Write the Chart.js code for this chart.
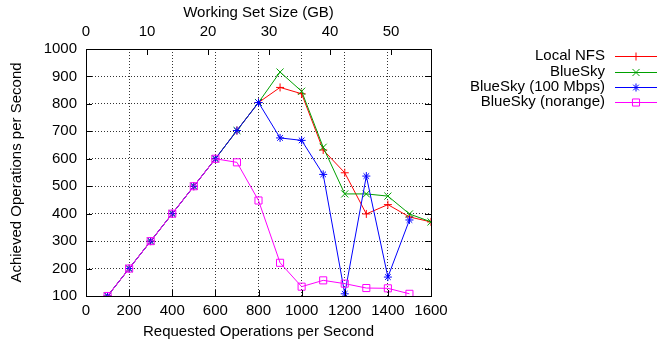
<!DOCTYPE html>
<html>
<head>
<meta charset="utf-8">
<script src="https://cdn.jsdelivr.net/npm/chart.js@4/dist/chart.umd.min.js"></script>
<style>
  html, body { margin: 0; padding: 0; background: #fff; }
  #wrap { width: 657px; height: 341px; position: relative; }
</style>
</head>
<body>
<div id="wrap"><canvas id="chart"></canvas></div>
<script>
// requested ops/s (x), achieved ops/s per series
const requested = [100, 200, 300, 400, 500, 600, 700, 800, 900, 1000, 1100, 1200, 1300, 1400, 1500, 1600];
const localNfs = [100, 200, 300, 400, 500, 600, 703, 805, 860, 837, 632, 549, 399, 433, 388, 370];
const blueSky = [100, 200, 300, 400, 500, 600, 703, 805, 916, 846, 642, 472, 472, 464, 399, 370];
const blueSky100 = [100, 200, 300, 400, 500, 600, 703, 805, 676, 667, 543, 108, 537, 169, 377, null];
const blueSkyNorange = [100, 200, 300, 400, 500, 600, 587, 448, 221, 134, 157, 145, 129, 128, 108, null];
const seriesNames = ['Local NFS', 'BlueSky', 'BlueSky (100 Mbps)', 'BlueSky (norange)'];
const xTicks = [0, 200, 400, 600, 800, 1000, 1200, 1400, 1600];
const x2Ticks = [0, 10, 20, 30, 40, 50];
const x2Max = 56.56;   // working set size at 1600 req/s

const FONT = 'Liberation Sans, Arial, Helvetica, sans-serif';
const FS = 15;
const pts = arr => requested.map((x, i) => ({ x, y: arr[i] }));

// gnuplot draws in order, so later series sit on top
const mk = (label, data, color, style, radius, order) => ({
    label, data: pts(data), order,
    borderColor: color, backgroundColor: 'transparent',
    pointBorderColor: color, pointBackgroundColor: 'transparent',
    pointStyle: style, pointRadius: radius, pointBorderWidth: 1,
    borderWidth: 1, tension: 0, fill: false, spanGaps: false
});

const datasets = [
    mk(seriesNames[0], localNfs, '#ff0000', 'cross', 4, 3),
    mk(seriesNames[1], blueSky, '#00a000', 'crossRot', 5, 2),
    mk(seriesNames[2], blueSky100, '#0000ff', 'star', 4, 1),
    mk(seriesNames[3], blueSkyNorange, '#ff00ff', 'rect', 5, 0)
];

// frame, inward tics and gnuplot style key
const gnuplotBits = {
    id: 'gnuplotBits',
    afterDraw(chart) {
        const ctx = chart.ctx;
        const a = chart.chartArea;
        const sx = chart.scales.x, sx2 = chart.scales.x2, sy = chart.scales.y;
        ctx.save();
        ctx.strokeStyle = '#000';
        ctx.lineWidth = 1;
        ctx.beginPath();
        xTicks.forEach(v => {
            const px = Math.round(sx.getPixelForValue(v)) + 0.5;
            ctx.moveTo(px, a.bottom); ctx.lineTo(px, a.bottom - 6);
        });
        x2Ticks.forEach(v => {
            const px = Math.round(sx2.getPixelForValue(v)) + 0.5;
            ctx.moveTo(px, a.top); ctx.lineTo(px, a.top + 6);
        });
        for (let v = 100; v <= 1000; v += 100) {
            const py = Math.round(sy.getPixelForValue(v)) + 0.5;
            ctx.moveTo(a.left, py); ctx.lineTo(a.left + 6, py);
            ctx.moveTo(a.right, py); ctx.lineTo(a.right - 6, py);
        }
        ctx.stroke();
        ctx.strokeRect(Math.round(a.left) + 0.5, Math.round(a.top) + 0.5,
            Math.round(a.right - a.left), Math.round(a.bottom - a.top));

        // key
        ctx.font = FS + 'px ' + FONT;
        ctx.textAlign = 'right';
        ctx.textBaseline = 'middle';
        const rows = [56, 72, 87, 102];
        chart.data.datasets.forEach((ds, i) => {
            const y = rows[i];
            ctx.fillStyle = '#000';
            ctx.fillText(ds.label, 605, y);
            ctx.strokeStyle = ds.borderColor;
            ctx.fillStyle = 'rgba(0,0,0,0)';
            ctx.setLineDash([]);
            ctx.beginPath();
            ctx.moveTo(615, y + 0.5); ctx.lineTo(657, y + 0.5);
            ctx.stroke();
            Chart.helpers.drawPoint(ctx, {
                pointStyle: ds.pointStyle, radius: ds.pointRadius,
                rotation: 0, borderWidth: 1
            }, 636, y + 0.5);
        });
        ctx.restore();
    }
};

const dotted = { color: 'rgba(0,0,0,0.8)', lineWidth: 1, drawTicks: false };
const plain = v => String(v);
const tickFont = { family: FONT, size: FS };

new Chart(document.getElementById('chart'), {
    type: 'line',
    data: { datasets },
    options: {
        responsive: true,
        maintainAspectRatio: false,
        animation: false,
        layout: { padding: { right: 226, top: 0, bottom: 0, left: 0 } },
        plugins: { legend: { display: false }, tooltip: { enabled: false } },
        elements: { line: { tension: 0 } },
        scales: {
            x: {
                type: 'linear', position: 'bottom', min: 0, max: 1600,
                afterBuildTicks: s => { s.ticks = xTicks.map(v => ({ value: v })); },
                afterFit: s => { s.height = 45; },
                grid: dotted,
                border: { display: false, dash: [1, 2] },
                ticks: { color: '#000', font: tickFont, padding: 6, maxRotation: 0, callback: plain },
                title: { display: true, text: 'Requested Operations per Second', color: '#000',
                    font: tickFont, padding: { top: 0, bottom: 0 } }
            },
            x2: {
                type: 'linear', position: 'top', min: 0, max: x2Max,
                afterBuildTicks: s => { s.ticks = x2Ticks.map(v => ({ value: v })); },
                afterFit: s => { s.height = 49; },
                grid: { display: false, drawTicks: false },
                border: { display: false },
                ticks: { color: '#000', font: tickFont, padding: 8, maxRotation: 0, callback: plain },
                title: { display: true, text: 'Working Set Size (GB)', color: '#000',
                    font: tickFont, padding: { top: 4, bottom: 0 } }
            },
            y: {
                type: 'linear', min: 100, max: 1000,
                afterBuildTicks: s => {
                    const t = [];
                    for (let v = 100; v <= 1000; v += 100) t.push({ value: v });
                    s.ticks = t;
                },
                afterFit: s => { s.width = 86; },
                grid: dotted,
                border: { display: false, dash: [1, 2] },
                ticks: { color: '#000', font: tickFont, padding: 9, callback: plain },
                title: { display: true, text: 'Achieved Operations per Second', color: '#000',
                    font: tickFont, padding: { top: 8, bottom: 0 } }
            }
        }
    },
    plugins: [gnuplotBits]
});
</script>
</body>
</html>
